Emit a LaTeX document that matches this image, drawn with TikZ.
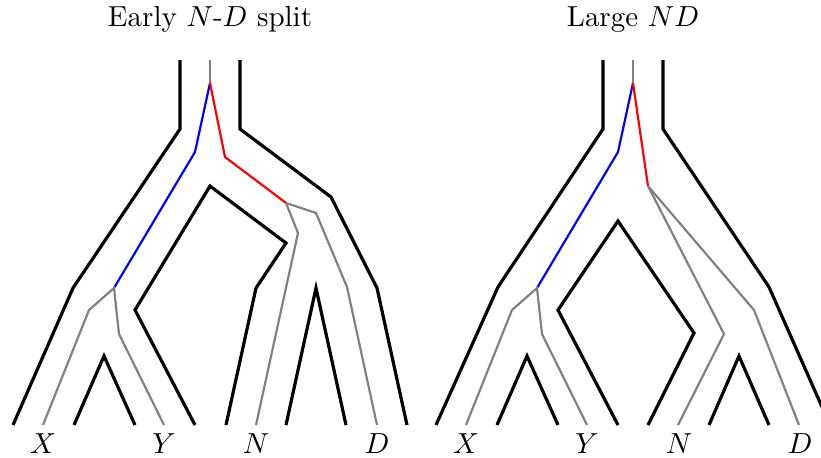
\documentclass[tikz,border=0pt]{standalone}
\begin{document}
\begin{tikzpicture}[x=0.345pt,y=-0.345pt,
  blk/.style={line width=1.1pt,black},
  gry/.style={line width=0.75pt,color=gray},
  blu/.style={line width=0.75pt,color=blue},
  rd/.style={line width=0.75pt,color=red},
  lbl/.style={anchor=base,inner sep=0pt},
  ttl/.style={anchor=base,inner sep=0pt}]
\clip (0,0) rectangle (821,457);
% ---------- left panel ----------
\node[ttl] (t1) at (210,26) {Early $N$-$D$ split};
\draw[blk] (180,60)--(180,129)--(73,288)--(13,425);
\draw[blk] (240,60)--(240,129)--(331,197)--(377,288)--(407,425);
\draw[blk] (74,425)--(104,356)--(135,425);
\draw[blk] (195,425)--(135,310)--(210,186)--(286,243)--(256,288)--(226,425);
\draw[blk] (286,425)--(316,288)--(346,425);
\draw[gry] (210,60)--(210,83);
\draw[blu] (210,83)--(195,152)--(114,288);
\draw[rd] (210,83)--(225,157)--(286,203);
\draw[gry] (43,425)--(89,310)--(114,288)--(119,334)--(164,425);
\draw[gry] (286,203)--(298,233)--(256,425);
\draw[gry] (286,203)--(316,213)--(347,287)--(377,425);
\node[lbl] (x1) at (43,453) {$X$};
\node[lbl] (y1) at (164,453) {$Y$};
\node[lbl] (n1) at (256,453) {$N$};
\node[lbl] (d1) at (377,453) {$D$};
% ---------- right panel ----------
\begin{scope}[xshift=423*0.345pt]
\node[ttl] (t2) at (210,26) {Large $ND$};
\draw[blk] (180,60)--(180,129)--(75,287)--(13,425);
\draw[blk] (240,60)--(240,129)--(346,287)--(407,425);
\draw[blk] (74,425)--(104,356)--(135,425);
\draw[blk] (195,425)--(135,310)--(195,221)--(271,333)--(225,425);
\draw[blk] (286,425)--(316,356)--(346,425);
\draw[gry] (210,60)--(210,83);
\draw[blu] (210,83)--(195,152)--(114,288);
\draw[rd] (210,83)--(225,186);
\draw[gry] (43,425)--(89,310)--(114,288)--(119,334)--(164,425);
\draw[gry] (225,186)--(301,334)--(255,425);
\draw[gry] (225,186)--(331,310)--(376,425);
\node[lbl] (x2) at (43,453) {$X$};
\node[lbl] (y2) at (164,453) {$Y$};
\node[lbl] (n2) at (256,453) {$N$};
\node[lbl] (d2) at (377,453) {$D$};
\end{scope}
\end{tikzpicture}
\end{document}
